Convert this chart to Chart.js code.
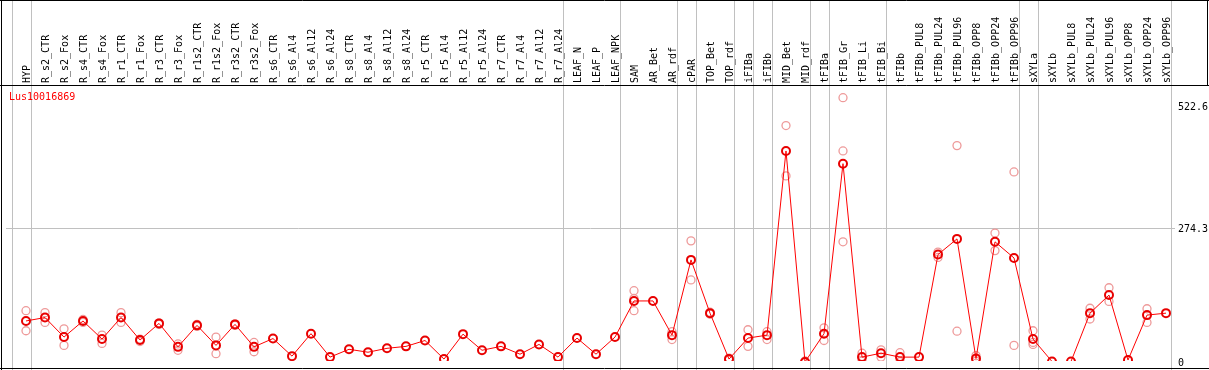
<!DOCTYPE html>
<html>
<head>
<meta charset="utf-8">
<script src="https://cdn.jsdelivr.net/npm/chart.js@4/dist/chart.umd.min.js"></script>
<style>
  html, body { margin: 0; padding: 0; background: #fff; }
  #wrap { width: 1209px; height: 370px; }
</style>
</head>
<body>
<div id="wrap"><canvas id="chart" width="1209" height="370"></canvas></div>
<script>
const N = null;
const geneName = 'Lus10016869';

const samples = ['HYP','R_s2_CTR','R_s2_Fox','R_s4_CTR','R_s4_Fox','R_r1_CTR','R_r1_Fox','R_r3_CTR','R_r3_Fox',
  'R_r1s2_CTR','R_r1s2_Fox','R_r3s2_CTR','R_r3s2_Fox','R_s6_CTR','R_s6_Al4','R_s6_Al12','R_s6_Al24',
  'R_s8_CTR','R_s8_Al4','R_s8_Al12','R_s8_Al24','R_r5_CTR','R_r5_Al4','R_r5_Al12','R_r5_Al24',
  'R_r7_CTR','R_r7_Al4','R_r7_Al12','R_r7_Al24','LEAF_N','LEAF_P','LEAF_NPK','SAM','AR_Bet','AR_rdf',
  'cPAR','TOP_Bet','TOP_rdf','iFIBa','iFIBb','MID_Bet','MID_rdf','tFIBa','tFIB_Gr','tFIB_Li','tFIB_Bi',
  'tFIBb','tFIBb_PUL8','tFIBb_PUL24','tFIBb_PUL96','tFIBb_OPP8','tFIBb_OPP24','tFIBb_OPP96',
  'sXYLa','sXYLb','sXYLb_PUL8','sXYLb_PUL24','sXYLb_PUL96','sXYLb_OPP8','sXYLb_OPP24','sXYLb_OPP96'];

// mean expression per sample
const means = [84, 91, 51, 84, 47, 91, 45, 79, 31, 75, 34, 77, 31,
  48, 12, 58, 10, 26, 20, 28, 32, 44, 6, 57, 24, 32, 16, 36, 10, 49, 16, 51,
  125, 125, 55, 209, 100, 6, 49, 55, 432, 0, 58, 406, 10, 18, 10, 10, 220, 252, 7, 246, 213,
  47, 1, 1, 100, 137, 4, 96, 100];

// replicates
const rep1 = [105, 101, 68, 87, 55, 101, 47, 80, 37, 77, 51, 78, 40,
  N, N, N, N, N, N, N, N, N, N, N, N, N, N, N, N, N, N, N,
  146, N, 62, 248, 102, 8, 66, 62, 484, 2, 70, 541, 18, 25, 19, N, 225, 443, 13, 264, 389,
  64, N, N, 110, 152, N, 109, N];
const rep2 = [64, 81, 34, 81, 38, 81, 42, 77, 24, 73, 17, 75, 21,
  N, N, N, N, N, N, N, N, N, N, N, N, N, N, N, N, N, N, N,
  105, N, 46, 168, 98, 4, 32, 46, 381, 0, 44, 246, 2, 10, 1, N, 214, 63, 2, 228, 34,
  36, N, N, 88, 124, N, 81, N];
const rep3 = [N, N, N, N, N, N, N, N, N, N, N, N, N,
  N, N, N, N, N, N, N, N, N, N, N, N, N, N, N, N, N, N, N,
  130, N, N, N, N, N, N, N, N, N, N, 432, N, N, N, N, N, N, N, N, N,
  40, N, N, N, N, N, N, N];

const yTicks = [0, 274.3, 522.6];
// samples after which a group separator is drawn
const groupEnds = [-1, 0, 28, 31, 34, 35, 37, 38, 39, 41, 42, 45, 52, 53, 60];

// where the first sample and the zero line sit, and px per unit
const firstX = 26, stepX = 19;
const zeroY = 362, pxPerUnit = 0.4885;

const monoFont = { family: 'DejaVu Sans Mono', size: 10 };

function toPoints(arr) {
    return arr.map((v, i) => ({ x: i, y: v })).filter(p => p.y !== null);
}

function repDataset(arr) {
    return {
        data: toPoints(arr),
        showLine: false,
        pointRadius: 4,
        pointBorderWidth: 1.3,
        pointBorderColor: '#ee9a9a',
        pointBackgroundColor: 'rgba(0,0,0,0)'
    };
}

const framePlugin = {
    id: 'frame',
    beforeDatasetsDraw(chart) {
        const ctx = chart.ctx;
        const xs = chart.scales.x;
        ctx.save();
        ctx.strokeStyle = '#c0c0c0';
        ctx.lineWidth = 1;
        groupEnds.forEach(g => {
            const x = Math.round(xs.getPixelForValue(g + 0.24)) + 0.5;
            ctx.beginPath();
            ctx.moveTo(x, 0);
            ctx.lineTo(x, 370);
            ctx.stroke();
        });
        ctx.restore();
    },
    afterDraw(chart) {
        const ctx = chart.ctx;
        ctx.save();
        ctx.strokeStyle = '#000';
        ctx.lineWidth = 1;
        ctx.beginPath();
        ctx.moveTo(0, 0.5); ctx.lineTo(1209, 0.5);
        ctx.moveTo(0, 85.5); ctx.lineTo(1209, 85.5);
        ctx.moveTo(0, 368.5); ctx.lineTo(1209, 368.5);
        ctx.moveTo(1.5, 0); ctx.lineTo(1.5, 370);
        ctx.moveTo(1207.5, 0); ctx.lineTo(1207.5, 85);
        ctx.stroke();
        ctx.fillStyle = '#ff0000';
        ctx.font = '10px "DejaVu Sans Mono"';
        ctx.textBaseline = 'middle';
        ctx.fillText(geneName, 9, 97);
        ctx.restore();
    }
};

const chart = new Chart(document.getElementById('chart'), {
    type: 'line',
    data: {
        datasets: [
            {
                data: toPoints(means),
                borderColor: '#ff0000',
                borderWidth: 1,
                tension: 0,
                pointRadius: 4,
                pointBorderWidth: 2,
                pointBorderColor: '#e80000',
                pointBackgroundColor: 'rgba(0,0,0,0)'
            },
            repDataset(rep1),
            repDataset(rep2),
            repDataset(rep3)
        ]
    },
    options: {
        responsive: false,
        animation: false,
        devicePixelRatio: 1,
        layout: { padding: 0 },
        plugins: { legend: { display: false }, tooltip: { enabled: false } },
        scales: {
            x: {
                type: 'linear',
                position: 'top',
                min: -1.4,
                max: 60.5,
                afterBuildTicks: s => { s.ticks = samples.map((_, i) => ({ value: i })); },
                afterFit: s => { s.height = 86; },
                grid: { display: false, drawTicks: false },
                border: { display: false },
                ticks: {
                    autoSkip: false,
                    minRotation: 90,
                    maxRotation: 90,
                    padding: 3,
                    labelOffset: 13,
                    color: '#000',
                    font: monoFont,
                    callback: v => samples[v] ?? ''
                }
            },
            y: {
                position: 'right',
                min: -16,
                max: 566,
                afterBuildTicks: s => { s.ticks = yTicks.map(v => ({ value: v })); },
                afterFit: s => { s.width = 34; },
                grid: {
                    drawTicks: false,
                    color: c => (c.tick && c.tick.value === 274.3) ? '#c0c0c0' : 'rgba(0,0,0,0)'
                },
                border: { display: false },
                ticks: {
                    padding: 3,
                    color: '#000',
                    font: monoFont,
                    labelOffset: c => (c.tick && c.tick.value === 274.3) ? 4 : 1,
                    callback: v => String(v)
                }
            }
        }
    },
    plugins: [framePlugin]
});

// fit the axis ranges to the real chart area so samples land on the grid
const area = chart.chartArea;
chart.options.scales.x.min = -(firstX - area.left) / stepX;
chart.options.scales.x.max = chart.options.scales.x.min + (area.right - area.left) / stepX;
chart.options.scales.y.max = (zeroY - area.top) / pxPerUnit;
chart.options.scales.y.min = -(area.bottom - zeroY) / pxPerUnit;
chart.update();
</script>
</body>
</html>
